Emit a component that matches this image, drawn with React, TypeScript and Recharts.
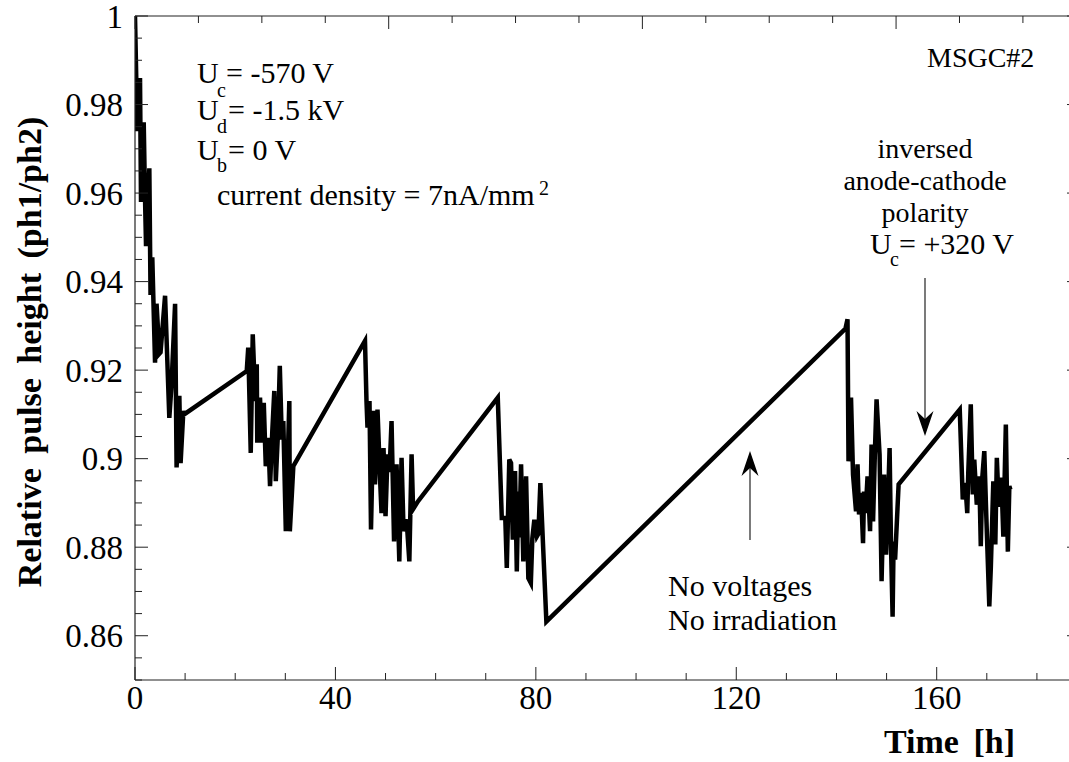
import React from "react";
import { LineChart, Line, XAxis, YAxis, Customized } from "recharts";

const hours = [
  0, 0.46, 1.0, 1.2, 1.74, 2.0, 2.2, 2.86, 3.1, 3.45, 4.0, 4.3, 4.86, 5.1, 6.0, 6.85, 7.3, 8.0, 8.3, 8.85, 9.1, 9.65, 9.8,
  22.3, 22.6, 23.1, 23.5, 24.0, 24.3, 24.4, 24.95, 25.3, 25.7, 26.1, 26.6, 26.95, 27.4, 27.8, 28.1, 28.5, 28.9, 29.3, 29.6, 30.1, 30.8, 30.9, 31.3, 31.6,
  45.9, 46.2, 46.4, 46.8, 47.1, 47.6, 47.9, 48.4, 48.9, 49.2, 49.6, 50.0, 50.4, 50.8, 51.2, 51.7, 52.2, 52.75, 53.2, 53.6, 54.2, 54.75, 55.2, 55.5, 56.5,
  72.4, 73.2, 73.9, 74.2, 74.7, 75.05, 75.4, 75.85, 76.2, 76.5, 76.7, 77.05, 77.5, 78.05, 78.5, 79.0, 79.3, 79.7, 80.2, 80.5, 80.9, 82.1,
  141.8, 142.2, 142.4, 142.9, 143.3, 143.9, 144.2, 144.5, 144.9, 145.3, 145.5, 145.8, 146.2, 146.7, 147.0, 147.3, 147.7, 148.0, 148.6, 149.0, 149.5, 149.9, 150.3, 150.6, 150.9, 151.2, 151.4, 151.7, 152.4,
  164.6, 165.2, 165.7, 166.1, 166.3, 166.8, 167.2, 167.5, 168.0, 168.5, 168.8, 169.1, 169.5, 169.9, 170.5, 170.8, 171.3, 171.7, 172.0, 172.4, 172.9, 173.3, 173.8, 174.2, 174.5, 174.7,
];

const ratio = [
  1.0, 0.974, 0.986, 0.958, 0.976, 0.959, 0.948, 0.9656, 0.937, 0.9455, 0.9217, 0.935, 0.9237, 0.924, 0.9368, 0.9092, 0.9169, 0.935, 0.898, 0.9142, 0.899, 0.9108, 0.91,
  0.9198, 0.9251, 0.9013, 0.9281, 0.913, 0.9213, 0.9036, 0.9138, 0.9036, 0.9126, 0.8983, 0.9047, 0.8938, 0.9062, 0.9153, 0.8949, 0.905, 0.921, 0.9043, 0.9085, 0.8836, 0.913, 0.8836, 0.8919, 0.8983,
  0.9266, 0.913, 0.907, 0.913, 0.884, 0.9108, 0.8942, 0.9111, 0.8957, 0.8877, 0.9024, 0.887, 0.901, 0.897, 0.9085, 0.8813, 0.8987, 0.8768, 0.9002, 0.8836, 0.8863, 0.8768, 0.901, 0.8886, 0.8904,
  0.9138, 0.8866, 0.8866, 0.8753, 0.8998, 0.899, 0.8817, 0.8972, 0.8745, 0.8926, 0.8822, 0.8987, 0.8768, 0.896, 0.873, 0.8719, 0.882, 0.8862, 0.8824, 0.883, 0.8945, 0.8632,
  0.9294, 0.9315, 0.8994, 0.9138, 0.8964, 0.8881, 0.8987, 0.8874, 0.8923, 0.8809, 0.8926, 0.8877, 0.896, 0.8836, 0.9032, 0.8858, 0.9028, 0.9134, 0.901, 0.8723, 0.8964, 0.8783, 0.891, 0.9024, 0.8794, 0.8643, 0.8813, 0.8772, 0.8942,
  0.9111, 0.8908, 0.8945, 0.8877, 0.8968, 0.9123, 0.8919, 0.8998, 0.8896, 0.896, 0.8802, 0.8957, 0.9017, 0.887, 0.8666, 0.8753, 0.8949, 0.8806, 0.9002, 0.8891, 0.8957, 0.8824, 0.9077, 0.879, 0.8938, 0.893,
];

const xTicks = [0, 10, 20, 30, 40, 50, 60, 70, 80, 90, 100, 110, 120, 130, 140, 150, 160, 170, 180];
const xMajorTicks = [0, 40, 80, 120, 160];
const yTicks = [
  0.85, 0.855, 0.86, 0.865, 0.87, 0.875, 0.88, 0.885, 0.89, 0.895, 0.9, 0.905, 0.91, 0.915,
  0.92, 0.925, 0.93, 0.935, 0.94, 0.945, 0.95, 0.955, 0.96, 0.965, 0.97, 0.975, 0.98, 0.985, 0.99, 0.995, 1,
];
const yMajorTicks = [0.86, 0.88, 0.9, 0.92, 0.94, 0.96, 0.98, 1];

const data = hours.map((h, i) => ({ hours: h, ratio: ratio[i] }));

const FONT = '"Liberation Serif", "Times New Roman", Times, serif';
const INK = "#222";

const isMajor = (list: number[], v: number) => list.some((m) => Math.abs(m - v) < 1e-6);

const txt = { fontFamily: FONT, fill: "#000" };

function BottomTick({ x, y, payload }: any) {
  const major = isMajor(xMajorTicks, payload.value);
  return (
    <g>
      <line x1={x} x2={x} y1={y} y2={y - (major ? 13 : 7)} stroke={INK} strokeWidth={1} />
      {major && (
        <text x={x} y={y + 29} textAnchor="middle" fontSize={33} style={txt}>
          {payload.value}
        </text>
      )}
    </g>
  );
}

function TopTick({ x, y, payload }: any) {
  const major = isMajor(xMajorTicks, payload.value);
  return <line x1={x} x2={x} y1={y} y2={y + (major ? 13 : 7)} stroke={INK} strokeWidth={1} />;
}

function LeftTick({ x, y, payload }: any) {
  const major = isMajor(yMajorTicks, payload.value);
  return (
    <g>
      <line x1={x} x2={x + (major ? 13 : 7)} y1={y} y2={y} stroke={INK} strokeWidth={1} />
      {major && (
        <text x={x - 12} y={y} dy="0.35em" textAnchor="end" fontSize={33} style={txt}>
          {String(payload.value)}
        </text>
      )}
    </g>
  );
}

function RightTick({ x, y, payload }: any) {
  const major = isMajor(yMajorTicks, payload.value);
  return <line x1={x} x2={x - (major ? 13 : 7)} y1={y} y2={y} stroke={INK} strokeWidth={1} />;
}

function Annotations() {
  return (
    <g>
      <text fontSize={34} fontWeight="bold" transform="translate(41,352) rotate(-90)" textAnchor="middle" style={{ ...txt, wordSpacing: 6 }}>
        Relative pulse height (ph1/ph2)
      </text>
      <text fontSize={34} fontWeight="bold" x={1015} y={753} textAnchor="end" style={{ ...txt, wordSpacing: 6 }}>
        Time [h]
      </text>

      <text style={txt} fontSize={30} x={197} y={83}>U</text>
      <text style={txt} fontSize={20} x={217} y={97}>c</text>
      <text style={txt} fontSize={30} x={226} y={83}>= -570 V</text>

      <text style={txt} fontSize={30} x={197} y={120}>U</text>
      <text style={txt} fontSize={20} x={217} y={133}>d</text>
      <text style={txt} fontSize={30} x={228} y={120}>= -1.5 kV</text>

      <text style={txt} fontSize={30} x={197} y={160}>U</text>
      <text style={txt} fontSize={20} x={217} y={172}>b</text>
      <text style={txt} fontSize={30} x={228} y={160}>= 0 V</text>

      <text style={txt} fontSize={30} x={217} y={205}>current density = 7nA/mm</text>
      <text style={txt} fontSize={20} x={539} y={195}>2</text>

      <text style={txt} fontSize={28} x={927} y={67}>MSGC#2</text>

      <text style={txt} fontSize={28} x={925} y={158} textAnchor="middle">inversed</text>
      <text style={txt} fontSize={28} x={925} y={190} textAnchor="middle">anode-cathode</text>
      <text style={txt} fontSize={28} x={925} y={222} textAnchor="middle">polarity</text>

      <text style={txt} fontSize={30} x={870} y={254}>U</text>
      <text style={txt} fontSize={20} x={890} y={266}>c</text>
      <text style={txt} fontSize={30} x={899} y={254}>= +320 V</text>

      <text style={txt} fontSize={30} x={668} y={596}>No voltages</text>
      <text style={txt} fontSize={30} x={668} y={630}>No irradiation</text>

      {/* arrow down to the polarity change */}
      <line x1={925} x2={925} y1={278} y2={422} stroke={INK} strokeWidth={1.2} />
      <path d="M925,436 L916.5,411 L925,419 L933.5,411 Z" fill="#000" />

      {/* arrow up to the gap without irradiation */}
      <line x1={750} x2={750} y1={540} y2={462} stroke={INK} strokeWidth={1.2} />
      <path d="M750,451 L741.5,476 L750,468 L758.5,476 Z" fill="#000" />
    </g>
  );
}

export default function App() {
  return (
    <div
      style={{
        position: "absolute",
        left: 0,
        top: 0,
        width: 1069,
        height: 762,
        overflow: "hidden",
        background: "#fff",
        fontFamily: FONT,
      }}
    >
      <LineChart width={1100} height={762} data={data} margin={{ top: 0, right: 0, bottom: 0, left: 0 }}>
        <XAxis
          dataKey="hours"
          type="number"
          domain={[0, 188.6]}
          allowDataOverflow
          ticks={xTicks}
          interval={0}
          height={82}
          tickSize={0}
          tickMargin={0}
          tickLine={false}
          tick={<BottomTick />}
          axisLine={{ stroke: INK, strokeWidth: 1.2 }}
        />
        <XAxis
          xAxisId="top"
          orientation="top"
          type="number"
          domain={[0, 188.6]}
          allowDataOverflow
          ticks={xTicks}
          interval={0}
          height={16}
          tickSize={0}
          tickMargin={0}
          tickLine={false}
          tick={<TopTick />}
          axisLine={{ stroke: INK, strokeWidth: 1.2 }}
        />
        <YAxis
          type="number"
          domain={[0.85, 1]}
          allowDataOverflow
          ticks={yTicks}
          interval={0}
          width={135}
          tickSize={0}
          tickMargin={0}
          tickLine={false}
          tick={<LeftTick />}
          axisLine={{ stroke: INK, strokeWidth: 1.2 }}
        />
        <YAxis
          yAxisId="right"
          orientation="right"
          type="number"
          domain={[0.85, 1]}
          allowDataOverflow
          ticks={yTicks}
          interval={0}
          width={20}
          tickSize={0}
          tickMargin={0}
          tickLine={false}
          tick={<RightTick />}
          axisLine={{ stroke: INK, strokeWidth: 1.2 }}
        />
        <Line
          type="linear"
          dataKey="ratio"
          stroke="#000"
          strokeWidth={4.5}
          dot={false}
          activeDot={false}
          isAnimationActive={false}
        />
        <Customized component={<Annotations />} />
      </LineChart>
    </div>
  );
}
